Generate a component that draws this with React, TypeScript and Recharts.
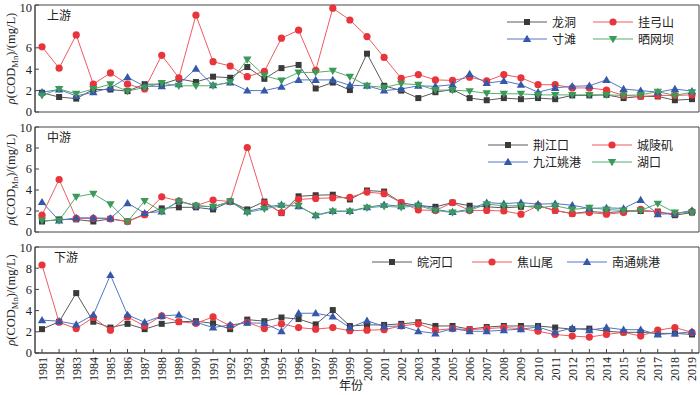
import { LineChart, Line, XAxis, YAxis, ReferenceArea } from "recharts";

// years on the shared x axis
const YEARS = [
  1981, 1982, 1983, 1984, 1985, 1986, 1987, 1988, 1989, 1990, 1991, 1992, 1993,
  1994, 1995, 1996, 1997, 1998, 1999, 2000, 2001, 2002, 2003, 2004, 2005, 2006,
  2007, 2008, 2009, 2010, 2011, 2012, 2013, 2014, 2015, 2016, 2017, 2018, 2019,
];
const Y_TICKS = [0, 2, 4, 6, 8, 10];

// 上游
const LONGDONG = [1.8, 1.4, 1.25, 2.1, 2.1, 1.95, 2.6, 2.6, 3.1, 2.8, 3.3, 3.2, 4.2, 3.1, 4.1, 4.4, 2.2, 2.75, 2.05, 5.45, 2.45, 2.0, 1.3, 1.85, 2.1, 1.3, 1.1, 1.3, 1.2, 1.3, 1.2, 1.55, 1.55, 1.6, 1.3, 1.45, 1.45, 1.1, 1.2];
const GUAGONGSHAN = [6.1, 4.1, 7.2, 2.6, 3.65, 2.6, 2.15, 5.3, 3.2, 9.05, 4.7, 4.3, 3.3, 3.8, 6.9, 7.65, 3.9, 9.7, 8.6, 7.05, 5.1, 3.15, 3.5, 3.0, 2.95, 3.25, 2.9, 3.5, 3.2, 2.55, 2.55, 2.25, 2.25, 2.05, 1.55, 1.45, 1.55, 1.55, 1.6];
const CUNTAN = [1.85, 2.1, 1.5, 1.85, 2.25, 3.25, 2.4, 2.4, 2.6, 4.05, 2.5, 2.75, 2.0, 2.0, 2.35, 3.0, 3.0, 3.0, 2.5, 2.45, 2.0, 2.15, 2.45, 2.4, 2.55, 3.55, 2.7, 2.9, 2.55, 1.85, 2.25, 2.4, 2.45, 3.0, 2.15, 2.0, 1.85, 2.15, 1.95];
const SHAIWANGBA = [1.55, 2.15, 1.7, 2.15, 2.6, 1.95, 2.3, 2.7, 2.45, 2.45, 2.45, 2.8, 4.9, 3.4, 2.95, 3.7, 3.7, 3.85, 3.3, 2.45, 2.3, 2.65, 2.55, 2.05, 2.05, 1.95, 1.75, 1.7, 1.7, 1.6, 1.6, 1.6, 1.6, 1.6, 1.55, 1.6, 1.9, 1.55, 1.85];

// 中游
const JINGJIANGKOU = [1.0, 1.2, 1.2, 1.0, 1.25, 1.0, 1.7, 2.25, 2.35, 2.35, 2.15, 2.9, 2.15, 2.9, 1.8, 3.4, 3.5, 3.55, 3.1, 3.95, 3.85, 2.8, 2.5, 2.4, 2.8, 2.5, 2.4, 2.3, 2.4, 2.5, 2.05, 1.75, 1.95, 1.85, 1.95, 2.0, 1.95, 1.6, 1.85];
const CHENGLINGJI = [1.6, 5.0, 1.3, 1.3, 1.25, 1.0, 1.65, 3.35, 2.95, 2.5, 3.05, 2.9, 8.05, 2.75, 1.85, 3.1, 3.2, 3.25, 3.3, 3.8, 3.65, 2.8, 2.1, 2.05, 2.8, 2.05, 2.05, 2.0, 1.7, 2.5, 2.05, 1.75, 1.85, 1.7, 1.85, 2.15, 1.85, 1.75, 1.95];
const JIUJIANG = [2.85, 1.1, 1.35, 1.35, 1.3, 2.75, 1.8, 1.95, 2.95, 2.5, 2.4, 2.9, 1.95, 2.35, 2.6, 2.45, 1.6, 2.0, 2.0, 2.35, 2.6, 2.45, 2.65, 2.15, 1.9, 2.15, 2.8, 2.7, 2.8, 2.65, 2.7, 2.55, 2.25, 2.3, 2.25, 3.05, 1.7, 1.75, 2.05];
const HUKOU = [1.1, 1.1, 3.35, 3.65, 2.65, 1.0, 2.95, 1.95, 2.9, 2.5, 2.4, 2.9, 1.85, 2.2, 2.5, 2.5, 1.55, 1.95, 1.95, 2.3, 2.45, 2.35, 2.5, 2.05, 1.85, 2.05, 2.65, 2.5, 2.5, 2.3, 2.5, 2.15, 2.3, 2.15, 2.05, 2.05, 2.7, 1.85, 1.85];

// 下游
const WANHEKOU = [2.25, 2.95, 5.65, 2.95, 2.4, 2.75, 2.25, 2.75, 2.95, 3.0, 2.8, 2.25, 3.15, 3.0, 3.35, 3.2, 2.7, 4.05, 2.55, 2.65, 2.65, 2.75, 2.9, 2.55, 2.55, 2.25, 2.45, 2.55, 2.55, 2.55, 2.4, 2.25, 2.3, 2.05, 1.95, 1.95, 1.85, 1.85, 1.75];
const JIAOSHANWEI = [8.3, 2.9, 2.3, 3.35, 2.15, 3.4, 2.55, 3.5, 2.95, 2.8, 3.4, 2.55, 2.9, 2.3, 2.75, 2.4, 2.25, 2.4, 2.1, 2.15, 2.2, 2.55, 2.75, 2.15, 2.3, 2.2, 2.3, 2.4, 2.3, 2.05, 1.75, 1.6, 1.5, 1.75, 1.95, 1.6, 2.15, 2.4, 1.95];
const NANTONG = [3.1, 3.0, 2.7, 3.6, 7.35, 3.6, 2.9, 3.5, 3.6, 2.9, 2.4, 2.65, 2.85, 2.8, 2.05, 3.75, 3.75, 3.45, 2.4, 3.05, 2.5, 2.55, 2.05, 1.85, 2.3, 2.05, 2.05, 2.15, 2.25, 2.45, 1.95, 2.35, 2.15, 2.4, 2.2, 2.2, 1.75, 1.85, 2.0];

type Shape = "square" | "circle" | "up" | "down";

const STYLE: Record<Shape, { line: string; fill: string }> = {
  square: { line: "#5a5a5a", fill: "#3a3a3a" },
  circle: { line: "#ef5b60", fill: "#e8343b" },
  up: { line: "#5277c4", fill: "#3558a8" },
  down: { line: "#55ad70", fill: "#3c9a59" },
};

const SERIF = "'Liberation Serif', 'Times New Roman', serif";
const CJK = "'Noto Sans CJK SC', sans-serif";
const AXIS = "#444444";

function Marker({ shape, cx, cy }: { shape: Shape; cx: number; cy: number }) {
  const fill = STYLE[shape].fill;
  if (shape === "square") return <rect x={cx - 3} y={cy - 3} width={6} height={6} fill={fill} />;
  if (shape === "circle") return <circle cx={cx} cy={cy} r={3.6} fill={fill} />;
  if (shape === "up")
    return <polygon points={`${cx},${cy - 4.2} ${cx + 4.2},${cy + 3} ${cx - 4.2},${cy + 3}`} fill={fill} />;
  return <polygon points={`${cx},${cy + 4.2} ${cx + 4.2},${cy - 3} ${cx - 4.2},${cy - 3}`} fill={fill} />;
}

const makeDot = (shape: Shape) => (props: any) => {
  const { cx, cy, index } = props;
  if (cx == null || cy == null) return <g key={index} />;
  return (
    <g key={index}>
      <Marker shape={shape} cx={cx} cy={cy} />
    </g>
  );
};

interface Series {
  name: string;
  values: number[];
  shape: Shape;
}

interface LegendPos {
  left: number;
  top: number;
}

const YLabel = (props: any) => {
  const { x, y, height } = props.viewBox;
  const cx = x + 15;
  const cy = y + height / 2;
  return (
    <text
      transform={`translate(${cx},${cy}) rotate(-90)`}
      textAnchor="middle"
      fontFamily={SERIF}
      fontSize={12.5}
      fill="#222"
    >
      <tspan fontStyle="italic">ρ</tspan>
      <tspan>(COD</tspan>
      <tspan fontSize={8.5} dy={3}>Mn</tspan>
      <tspan dy={-3}>)/(mg/L)</tspan>
    </text>
  );
};

const YearTick = (props: any) => {
  const { x, y, payload } = props;
  return (
    <text
      transform={`translate(${x + 4.5},${y}) rotate(-90)`}
      textAnchor="end"
      fontFamily={SERIF}
      fontSize={12}
      fill="#222"
    >
      {payload.value}
    </text>
  );
};

const XTitle = (props: any) => {
  const { x, y, width, height } = props.viewBox;
  return (
    <text x={x + width / 2 - 16} y={y + height - 5} textAnchor="middle" fontFamily={CJK} fontSize={12} fill="#222">
      年份
    </text>
  );
};

function Panel({
  top,
  height,
  marginTop,
  title,
  titleLeft,
  series,
  legend,
  showYears,
}: {
  top: number;
  height: number;
  marginTop: number;
  title: string;
  titleLeft: number;
  series: Series[];
  legend: LegendPos[];
  showYears: boolean;
}) {
  const data = YEARS.map((year, i) => {
    const row: Record<string, number> = { year };
    series.forEach((s, k) => {
      row["s" + k] = s.values[i];
    });
    return row;
  });

  return (
    <div style={{ position: "absolute", left: 0, top, width: 700, height }}>
      <LineChart
        width={700}
        height={height}
        data={data}
        margin={{ top: marginTop, right: 1, bottom: showYears ? 0 : 8, left: 0 }}
      >
        <XAxis
          dataKey="year"
          type="number"
          domain={[1980.59, 2019.41]}
          ticks={YEARS}
          interval={0}
          height={showYears ? 42 : 0}
          stroke={AXIS}
          tickSize={-4}
          tickMargin={showYears ? 8 : 0}
          tick={showYears ? <YearTick /> : () => <g />}
          label={showYears ? <XTitle /> : undefined}
        />
        <YAxis
          type="number"
          domain={[0, 10]}
          ticks={Y_TICKS}
          width={35}
          stroke={AXIS}
          tickSize={-4}
          tickMargin={7}
          tick={{ fontFamily: SERIF, fontSize: 12.5, fill: "#222" }}
          label={<YLabel />}
        />
        <ReferenceArea
          x1={1980.59}
          x2={2019.41}
          y1={0}
          y2={10}
          fill="none"
          stroke={AXIS}
          strokeWidth={1}
          ifOverflow="visible"
        />
        {series.map((s, k) => (
          <Line
            key={s.name}
            dataKey={"s" + k}
            stroke={STYLE[s.shape].line}
            strokeWidth={1}
            dot={makeDot(s.shape)}
            activeDot={false}
            isAnimationActive={false}
          />
        ))}
      </LineChart>
      <div
        style={{
          position: "absolute",
          left: titleLeft,
          top: marginTop + 4,
          fontFamily: CJK,
          fontSize: 12,
          lineHeight: 1,
          color: "#222",
        }}
      >
        {title}
      </div>
      {series.map((s, k) => (
        <div
          key={s.name}
          style={{
            position: "absolute",
            left: legend[k].left,
            top: legend[k].top - 7,
            height: 14,
            display: "flex",
            alignItems: "center",
            fontFamily: CJK,
            fontSize: 12,
            lineHeight: 1,
            color: "#222",
            whiteSpace: "nowrap",
          }}
        >
          <svg width={40} height={14} style={{ marginRight: 5 }}>
            <line x1={0} y1={7} x2={40} y2={7} stroke={STYLE[s.shape].line} strokeWidth={1} />
            <Marker shape={s.shape} cx={20} cy={7} />
          </svg>
          {s.name}
        </div>
      ))}
    </div>
  );
}

export default function App() {
  return (
    <div style={{ position: "relative", width: 700, height: 395, background: "#fff", overflow: "hidden" }}>
      <style>{"body{margin:0;}"}</style>
      <Panel
        top={0}
        height={120}
        marginTop={5}
        title="上游"
        titleLeft={47}
        series={[
          { name: "龙洞", values: LONGDONG, shape: "square" },
          { name: "挂弓山", values: GUAGONGSHAN, shape: "circle" },
          { name: "寸滩", values: CUNTAN, shape: "up" },
          { name: "晒网坝", values: SHAIWANGBA, shape: "down" },
        ]}
        legend={[
          { left: 507, top: 22 },
          { left: 593, top: 22 },
          { left: 507, top: 39 },
          { left: 593, top: 39 },
        ]}
        showYears={false}
      />
      <Panel
        top={120}
        height={120}
        marginTop={7}
        title="中游"
        titleLeft={47}
        series={[
          { name: "荆江口", values: JINGJIANGKOU, shape: "square" },
          { name: "城陵矶", values: CHENGLINGJI, shape: "circle" },
          { name: "九江姚港", values: JIUJIANG, shape: "up" },
          { name: "湖口", values: HUKOU, shape: "down" },
        ]}
        legend={[
          { left: 488, top: 25 },
          { left: 592, top: 25 },
          { left: 488, top: 42 },
          { left: 592, top: 42 },
        ]}
        showYears={false}
      />
      <Panel
        top={240}
        height={155}
        marginTop={7}
        title="下游"
        titleLeft={54}
        series={[
          { name: "皖河口", values: WANHEKOU, shape: "square" },
          { name: "焦山尾", values: JIAOSHANWEI, shape: "circle" },
          { name: "南通姚港", values: NANTONG, shape: "up" },
        ]}
        legend={[
          { left: 372, top: 22 },
          { left: 472, top: 22 },
          { left: 567, top: 22 },
        ]}
        showYears={true}
      />
    </div>
  );
}
